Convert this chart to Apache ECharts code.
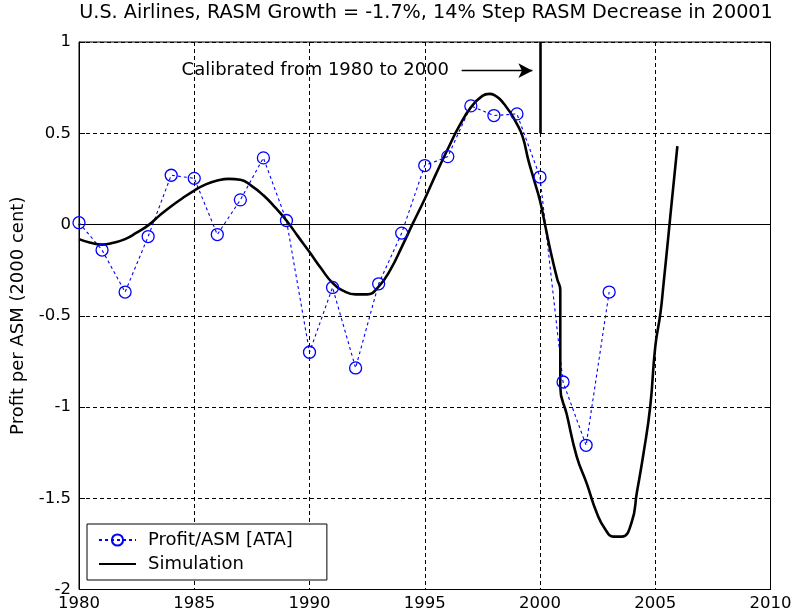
<!DOCTYPE html>
<html>
<head>
<meta charset="utf-8">
<script src="https://cdn.jsdelivr.net/npm/echarts@6/dist/echarts.min.js"></script>
<style>
html,body{margin:0;padding:0;background:#fff;}
#chart{width:794px;height:616px;}
</style>
</head>
<body>
<div id="chart"></div>
<script>
// ---- data ----
var ataYears = [1980,1981,1982,1983,1984,1985,1986,1987,1988,1989,1990,1991,1992,1993,1994,1995,1996,1997,1998,1999,2000,2001,2002,2003];
var ataValues = [0.01,-0.14,-0.37,-0.066,0.27,0.253,-0.055,0.135,0.365,0.022,-0.70,-0.345,-0.786,-0.325,-0.047,0.323,0.372,0.65,0.597,0.606,0.26,-0.863,-1.21,-0.37];

var simYears = [1980.0,1980.5,1981.0,1981.5,1982.0,1982.5,1983.0,1983.5,1984.0,1984.5,1985.0,1985.5,1986.0,1986.5,1987.0,1987.5,1988.0,1988.5,1989.0,1989.5,1990.0,1990.5,1991.0,1991.5,1992.0,1992.5,1993.0,1993.5,1994.0,1994.5,1995.0,1995.5,1996.0,1996.5,1997.0,1997.5,1997.8,1998.0,1998.5,1999.0,1999.25,1999.5,1999.75,2000.0,2000.25,2000.5,2000.75,2000.88,2000.88,2001.16,2001.59,2002.03,2002.46,2002.83,2003.19,2003.55,2003.98,2004.2,2004.49,2004.78,2005.0,2005.22,2005.36,2005.58,2005.72,2005.96];
var simValues = [-0.08,-0.10,-0.11,-0.10,-0.08,-0.045,-0.005,0.05,0.10,0.145,0.186,0.22,0.241,0.25,0.245,0.21,0.16,0.095,0.022,-0.065,-0.151,-0.24,-0.32,-0.365,-0.383,-0.383,-0.34,-0.25,-0.124,0.01,0.14,0.28,0.414,0.54,0.642,0.705,0.716,0.71,0.651,0.55,0.48,0.35,0.24,0.13,-0.02,-0.17,-0.30,-0.36,-0.89,-1.04,-1.27,-1.42,-1.58,-1.67,-1.71,-1.71,-1.63,-1.47,-1.255,-1.0,-0.67,-0.49,-0.325,-0.05,0.13,0.43];

var xTicks = [1980,1985,1990,1995,2000,2005,2010];
var yTicks = [-2,-1.5,-1,-0.5,0,0.5,1];

var titleText = 'U.S. Airlines, RASM Growth = -1.7%, 14% Step RASM Decrease in 20001';
var yAxisName = 'Profit per ASM (2000 cent)';
var seriesNames = ['Profit/ASM [ATA]', 'Simulation'];
var noteText = 'Calibrated from 1980 to 2000';
var notePoint = [1984.45, 0.843];
var arrowFrom = [1996.6, 0.843];
var arrowTo = [1999.67, 0.843];
var calibLineTop = [2000, 1];
var calibLineBottom = [2000, 0.5];

// ---- build ----
function pairs(xs, ys){ return xs.map(function(x,i){ return [x, ys[i]]; }); }
var FONT = 'DejaVu Sans';

var chart = echarts.init(document.getElementById('chart'), null, {renderer:'canvas'});
var gridLine = {show:true, lineStyle:{color:'#000', type:[4,3], width:1}};
var option = {
  backgroundColor:'#fff',
  animation:false,
  title:{
    text:titleText, left:426, top:4, textAlign:'center', padding:0,
    textStyle:{fontFamily:FONT, fontSize:19.2, fontWeight:'normal', color:'#000'}
  },
  grid:{left:79, right:23.5, top:42, bottom:26.5, show:true, borderColor:'#000', borderWidth:1, backgroundColor:'#fff', containLabel:false, outerBoundsMode:'none'},
  legend:{
    data:[{name:seriesNames[0]}, {name:seriesNames[1], itemStyle:{opacity:0}}],
    orient:'vertical', left:87, top:524,
    backgroundColor:'#fff', borderColor:'#000', borderWidth:1,
    padding:[7,34,7,11], itemGap:6, itemWidth:37, itemHeight:14,
    textStyle:{fontFamily:FONT, fontSize:18, color:'#000', padding:[0,0,0,7]}
  },
  xAxis:[{
    type:'value', min:1980, max:2010, interval:5,
    axisLine:{show:true, lineStyle:{color:'#000', width:1}},
    axisTick:{show:true, inside:true, length:6, lineStyle:{color:'#000'}},
    axisLabel:{fontFamily:FONT, fontSize:16.5, color:'#000', margin:6, formatter:function(v){return String(v);}},
    splitLine:gridLine
  },{
    type:'value', position:'top', min:1980, max:2010, interval:5,
    axisLine:{show:true, lineStyle:{color:'#000'}},
    axisTick:{show:true, inside:true, length:6, lineStyle:{color:'#000'}},
    axisLabel:{show:false}, splitLine:{show:false}
  }],
  yAxis:[{
    type:'value', min:-2, max:1, interval:0.5,
    name:yAxisName, nameLocation:'middle', nameGap:52, nameRotate:90,
    nameTextStyle:{fontFamily:FONT, fontSize:18, color:'#000'},
    axisLine:{show:true, lineStyle:{color:'#000', width:1}},
    axisTick:{show:true, inside:true, length:6, lineStyle:{color:'#000'}},
    axisLabel:{fontFamily:FONT, fontSize:16.5, color:'#000', margin:8, formatter:function(v){return String(v);}},
    splitLine:gridLine
  },{
    type:'value', position:'right', min:-2, max:1, interval:0.5,
    axisLine:{show:true, lineStyle:{color:'#000'}},
    axisTick:{show:true, inside:true, length:6, lineStyle:{color:'#000'}},
    axisLabel:{show:false}, splitLine:{show:false}
  }],
  series:[{
    name:seriesNames[0], type:'line', data:pairs(ataYears, ataValues),
    symbol:'circle', symbolSize:12,
    itemStyle:{color:'rgba(255,255,255,0)', borderColor:'#0000ff', borderWidth:1.3},
    lineStyle:{color:'#0000ff', width:1.1, type:[3,3]},
    color:'#0000ff'
  },{
    name:seriesNames[1], type:'line', data:pairs(simYears, simValues),
    symbol:'none', smooth:0.5,
    lineStyle:{color:'#000', width:2.6}, itemStyle:{color:'#000'}, color:'#000'
  },{
    name:'note', type:'scatter', data:[notePoint], symbolSize:0, silent:true,
    itemStyle:{opacity:1, color:'#000'},
    label:{show:true, position:'right', distance:0, formatter:noteText,
      fontFamily:FONT, fontSize:18, color:'#000', textBorderWidth:0},
    markLine:{
      silent:true, animation:false,
      label:{show:false},
      data:[
        [{coord:arrowFrom, symbol:'none', lineStyle:{color:'#000', width:1.3, type:'solid'}},
         {coord:arrowTo, symbol:'arrow', symbolSize:[11,14]}],
        [{coord:calibLineTop, symbol:'none', lineStyle:{color:'#000', width:2.6, type:'solid'}},
         {coord:calibLineBottom, symbol:'none'}]
      ]
    }
  }]
};
chart.setOption(option);
</script>
</body>
</html>
